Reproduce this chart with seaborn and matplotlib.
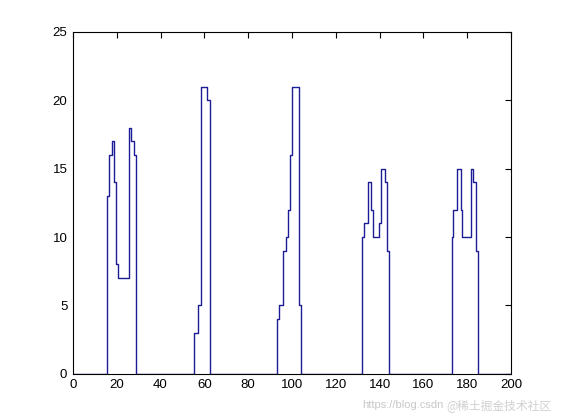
import numpy as np
import pandas as pd
import matplotlib
matplotlib.use("Agg")
import matplotlib.pyplot as plt
import seaborn as sns

# Stair edges (x where each level starts) and levels per cluster
c1_x = [15.6, 16.6, 17.7, 18.8, 19.7, 20.6, 25.7, 26.7, 27.7, 28.7]
c1_y = [13, 16, 17, 14, 8, 7, 18, 17, 16, 0]
c2_x = [55.2, 57.3, 58.6, 61.2, 62.7]
c2_y = [3, 5, 21, 20, 0]
c3_x = [93.2, 94.2, 95.7, 97.2, 98.2, 99.3, 100.1, 103.3, 104.0]
c3_y = [4, 5, 9, 10, 12, 16, 21, 5, 0]
c4_x = [132.1, 133.0, 134.8, 135.9, 137.1, 139.6, 140.6, 142.4, 143.5, 144.4]
c4_y = [10, 11, 14, 12, 10, 11, 15, 14, 9, 0]
c5_x = [172.9, 173.6, 175.5, 177.0, 177.8, 181.7, 182.8, 183.9, 184.8]
c5_y = [10, 12, 15, 12, 10, 15, 14, 9, 0]

x_ticks = [0, 20, 40, 60, 80, 100, 120, 140, 160, 180, 200]
y_ticks = [0, 5, 10, 15, 20, 25]

xs = [0] + c1_x + c2_x + c3_x + c4_x + c5_x + [200]
ys = [0] + c1_y + c2_y + c3_y + c4_y + c5_y + [0]
df = pd.DataFrame({"x": xs, "y": ys})

sns.set_style("white")
plt.rcParams["font.family"] = ["Liberation Sans", "DejaVu Sans"]

fig = plt.figure(figsize=(5.61, 4.20), dpi=100)
ax = fig.add_axes([0.13, 0.11, 0.781, 0.814])

sns.lineplot(data=df, x="x", y="y", ax=ax, drawstyle="steps-post",
             estimator=None, sort=False, color="#1c1c96", linewidth=1.0)

ax.set_xlim(0, 200)
ax.set_ylim(0, 25)
ax.set_xticks(x_ticks)
ax.set_yticks(y_ticks)
ax.set_xlabel("")
ax.set_ylabel("")
for s in ax.spines.values():
    s.set_visible(True)
    s.set_color("black")
    s.set_linewidth(0.8)
ax.tick_params(direction="in", length=4, width=0.8, top=True, right=True,
               labelsize=9.5, colors="black", pad=4)
ax.grid(False)

fig.text(0.79, 0.035, "https://blog.csdn", color="#c8c8c8", fontsize=8,
         ha="right", va="center")
fig.text(0.795, 0.035, "@稀土掘金技术社区", color="#d0d0d0", fontsize=8.5,
         ha="left", va="center", family=["Noto Sans CJK SC", "DejaVu Sans"])

fig.savefig("out.png", dpi=100, facecolor="white")
